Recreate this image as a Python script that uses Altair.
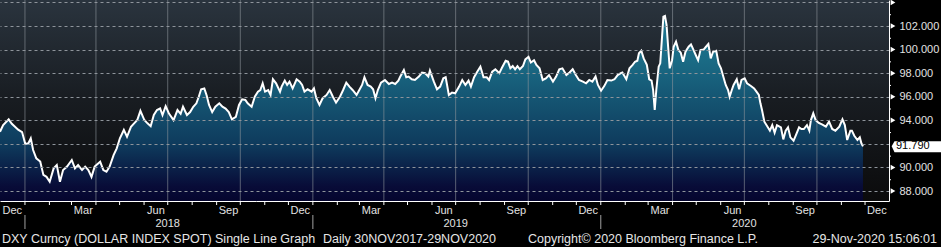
import altair as alt
import pandas as pd

# ---------------- data ----------------
dates = [
    "2017-12-01","2017-12-05","2017-12-12","2017-12-16","2017-12-20","2017-12-24","2017-12-29",
    "2018-01-02","2018-01-06","2018-01-09","2018-01-12","2018-01-16","2018-01-21","2018-01-25","2018-01-29",
    "2018-02-02","2018-02-07","2018-02-11","2018-02-15","2018-02-19","2018-02-24",
    "2018-03-02","2018-03-06","2018-03-10","2018-03-15","2018-03-19","2018-03-23","2018-03-27","2018-03-31",
    "2018-04-07","2018-04-11","2018-04-15","2018-04-19","2018-04-24","2018-04-28",
    "2018-05-02","2018-05-07","2018-05-11","2018-05-16","2018-05-20","2018-05-24","2018-05-28",
    "2018-06-02","2018-06-06","2018-06-10","2018-06-14","2018-06-18","2018-06-22","2018-06-25","2018-06-29",
    "2018-07-03","2018-07-09","2018-07-14","2018-07-18","2018-07-21","2018-07-26","2018-07-30",
    "2018-08-03","2018-08-07","2018-08-10","2018-08-13","2018-08-17","2018-08-20","2018-08-23","2018-08-27","2018-08-31",
    "2018-09-05","2018-09-09","2018-09-13","2018-09-17","2018-09-21","2018-09-26","2018-09-30",
    "2018-10-04","2018-10-08","2018-10-11","2018-10-16","2018-10-20","2018-10-24","2018-10-27","2018-10-30",
    "2018-11-02","2018-11-06","2018-11-09","2018-11-12","2018-11-16","2018-11-21","2018-11-23","2018-11-27","2018-11-30",
    "2018-12-03","2018-12-07","2018-12-12","2018-12-16","2018-12-19","2018-12-22","2018-12-26","2018-12-31",
    "2019-01-03","2019-01-06","2019-01-10","2019-01-14","2019-01-19","2019-01-23","2019-01-27","2019-01-31",
    "2019-02-05","2019-02-09","2019-02-13","2019-02-17","2019-02-21","2019-02-26",
    "2019-03-02","2019-03-05","2019-03-08","2019-03-12","2019-03-16","2019-03-19","2019-03-22","2019-03-25","2019-03-29",
    "2019-04-03","2019-04-08","2019-04-12","2019-04-16","2019-04-20","2019-04-22","2019-04-27","2019-04-30",
    "2019-05-03","2019-05-07","2019-05-11","2019-05-16","2019-05-20","2019-05-24","2019-05-28","2019-05-30",
    "2019-06-04","2019-06-08","2019-06-12","2019-06-16","2019-06-19","2019-06-23","2019-06-27",
    "2019-07-01","2019-07-06","2019-07-10","2019-07-14","2019-07-18","2019-07-21","2019-07-25","2019-07-29",
    "2019-08-02","2019-08-06","2019-08-10","2019-08-13","2019-08-17","2019-08-21","2019-08-26","2019-08-29",
    "2019-09-03","2019-09-06","2019-09-09","2019-09-12","2019-09-15","2019-09-18","2019-09-21","2019-09-25","2019-09-28",
    "2019-10-02","2019-10-05","2019-10-09","2019-10-12","2019-10-16","2019-10-20","2019-10-24","2019-10-28",
    "2019-11-02","2019-11-06","2019-11-10","2019-11-14","2019-11-19","2019-11-23","2019-11-27",
    "2019-12-01","2019-12-05","2019-12-10","2019-12-14","2019-12-18","2019-12-22","2019-12-26","2019-12-29",
    "2020-01-02","2020-01-06","2020-01-10","2020-01-15","2020-01-19","2020-01-23","2020-01-27","2020-01-29",
    "2020-02-03","2020-02-07","2020-02-11","2020-02-14","2020-02-17","2020-02-19","2020-02-22","2020-02-25","2020-02-29",
    "2020-03-03","2020-03-06","2020-03-08","2020-03-10","2020-03-12","2020-03-15","2020-03-17","2020-03-19",
    "2020-03-21","2020-03-23","2020-03-25","2020-03-27","2020-03-29",
    "2020-04-01","2020-04-03","2020-04-06","2020-04-09","2020-04-12","2020-04-15","2020-04-18","2020-04-22","2020-04-25","2020-04-28",
    "2020-05-01","2020-05-04","2020-05-07","2020-05-11","2020-05-14","2020-05-17","2020-05-20","2020-05-23","2020-05-27","2020-05-30",
    "2020-06-02","2020-06-05","2020-06-08","2020-06-11","2020-06-13","2020-06-16","2020-06-18","2020-06-22","2020-06-25","2020-06-28",
    "2020-07-02","2020-07-05","2020-07-10","2020-07-14","2020-07-17","2020-07-20","2020-07-22","2020-07-24","2020-07-27","2020-07-31",
    "2020-08-03","2020-08-06","2020-08-09","2020-08-12","2020-08-17","2020-08-20","2020-08-23","2020-08-26","2020-08-29",
    "2020-09-02","2020-09-05","2020-09-09","2020-09-12","2020-09-15","2020-09-19","2020-09-22","2020-09-24","2020-09-27","2020-09-30",
    "2020-10-04","2020-10-08","2020-10-13","2020-10-17","2020-10-21","2020-10-25","2020-10-30",
    "2020-11-03","2020-11-06","2020-11-09","2020-11-13","2020-11-15","2020-11-18","2020-11-22","2020-11-25","2020-11-27","2020-11-29",
]
values = [
    93.03,93.60,94.08,93.70,93.45,93.20,93.00,
    92.00,92.05,92.47,91.48,90.77,90.50,89.36,89.20,
    88.79,89.92,90.20,88.79,89.78,90.07,
    90.63,89.92,90.20,89.78,90.07,89.78,89.20,90.07,
    90.49,89.78,89.64,90.07,91.05,91.62,
    92.47,93.18,92.60,93.45,93.74,94.02,94.80,
    94.02,93.74,93.50,94.45,94.87,95.00,94.45,95.20,
    94.60,94.02,94.87,94.55,95.15,94.45,94.70,
    95.15,95.44,96.00,96.63,96.70,96.10,95.30,94.70,95.15,
    95.44,95.15,95.00,94.70,94.08,94.30,95.30,
    95.78,95.73,95.44,95.15,96.00,96.43,96.57,97.14,
    96.43,96.57,96.15,97.48,97.14,96.43,96.86,97.37,97.00,
    97.28,96.71,97.48,97.28,97.00,96.43,96.63,96.43,
    96.71,95.87,95.30,95.87,96.15,96.57,96.00,95.50,
    96.00,96.57,97.20,96.86,96.57,96.15,
    96.63,97.00,97.65,97.00,96.86,96.63,95.87,96.57,97.20,
    97.42,97.08,97.20,97.08,97.37,97.65,98.27,97.65,
    97.71,97.48,97.42,97.71,98.05,97.99,97.71,98.22,
    97.28,96.63,96.86,97.56,97.65,96.15,96.35,
    96.29,96.86,97.42,97.00,97.37,96.86,97.65,98.12,
    98.55,97.65,97.65,97.42,98.12,98.33,98.00,98.41,
    99.05,98.98,98.41,98.60,98.33,98.60,98.33,98.60,99.17,
    99.39,98.90,99.10,98.70,98.41,97.42,97.56,97.84,
    97.28,97.71,98.33,98.41,97.84,98.05,98.33,
    97.84,97.42,97.28,97.14,97.42,97.28,97.71,97.00,
    96.51,96.90,97.42,97.37,97.48,97.84,98.00,98.05,
    97.48,98.41,98.70,98.97,99.05,99.68,99.90,99.25,98.70,
    97.48,97.37,96.57,94.87,96.57,98.55,98.83,100.80,
    102.79,102.85,102.10,100.24,98.41,
    99.10,100.24,100.67,99.96,99.74,98.97,99.82,100.24,100.44,100.00,
    99.54,99.10,99.96,100.00,100.24,100.47,99.25,99.82,99.90,98.83,
    98.41,97.70,97.00,96.57,96.00,96.63,97.00,97.48,96.63,97.42,
    97.56,97.14,96.91,96.71,96.43,96.15,95.44,94.87,93.88,93.46,
    93.12,93.59,92.95,93.59,93.40,92.38,93.12,93.40,92.55,
    92.27,92.75,93.40,93.26,93.26,93.59,93.12,94.02,94.59,94.02,
    93.78,93.65,93.46,93.88,93.26,93.12,93.46,
    94.08,93.59,92.33,93.12,93.12,92.69,92.33,92.55,92.05,91.79,
]

y_labels = [88, 90, 92, 94, 96, 98, 100, 102, 104]
y_arrows = [88, 90, 94, 96, 98, 100, 102, 104]
y_minor = [89, 91, 93, 95, 97, 99, 101, 103]
y_min, y_max = 87.152, 104.206
x_start, x_end = "2017-12-01", "2021-01-01"
quarter_lines = ["2018-01-01", "2018-04-01", "2018-07-01", "2018-10-01",
                 "2019-01-01", "2019-04-01", "2019-07-01", "2019-10-01",
                 "2020-01-01", "2020-04-01", "2020-07-01", "2020-10-01"]
year_lines = ["2018-01-01", "2019-01-01", "2020-01-01"]

footer_left = "DXY Curncy (DOLLAR INDEX SPOT) Single Line Graph"
footer_range = "Daily 30NOV2017-29NOV2020"
footer_copy = "Copyright\u00a9 2020 Bloomberg Finance L.P."
footer_time = "29-Nov-2020 15:06:01"

# ---------------- tables ----------------
df = pd.DataFrame({"date": dates, "value": values})
bg = pd.DataFrame({"x0": [x_start], "x1": [x_end]})
arrows = pd.DataFrame({"edge": [x_end] * len(y_arrows), "v": y_arrows})
minor = pd.DataFrame({"edge": [x_end] * len(y_minor), "v": y_minor})
last = pd.DataFrame({"edge": [x_end], "value": [values[-1]]})
quarters = pd.DataFrame({"qd": quarter_lines})
years = pd.DataFrame({"yd": year_lines})
months = pd.DataFrame({"m": [d.strftime("%Y-%m-%d") for d in pd.date_range("2018-01-01", "2020-12-01", freq="MS")]})
one = pd.DataFrame({"k": [0]})


def dt(ts):
    ts = pd.Timestamp(ts)
    return alt.DateTime(year=ts.year, month=ts.month, date=ts.day, utc=True)


mid_months = [dt(d + pd.Timedelta(days=15)) for d in pd.date_range("2017-12-01", "2020-12-01", freq="3MS")]
year_mids = [dt(f"{y}-07-01") for y in (2018, 2019, 2020)]

FONT = "Liberation Sans"
LBL = "#e2e2e2"
GRID = "#8e949b"

xs = alt.Scale(type="utc", domain=[dt(x_start), dt(x_end)], nice=False)
ys = alt.Scale(domain=[y_min, y_max], nice=False, zero=False)

# background gradient of the plot area
bg_layer = alt.Chart(bg).mark_rect(
    color=alt.Gradient(
        gradient="linear", x1=0, x2=0, y1=0, y2=1,
        stops=[alt.GradientStop(color="#2a343e", offset=0),
               alt.GradientStop(color="#181c21", offset=0.5),
               alt.GradientStop(color="#0b0b0c", offset=1)],
    )
).encode(
    x=alt.X("x0:T", scale=xs, axis=None),
    x2="x1:T",
    y=alt.Y(datum=y_max, scale=ys, axis=None),
    y2=alt.datum(y_min),
)

area = alt.Chart(df).mark_area(
    color=alt.Gradient(
        gradient="linear", x1=0, x2=0, y1=0, y2=1,
        stops=[alt.GradientStop(color="#1f7892", offset=0),
               alt.GradientStop(color="#1a6a84", offset=0.25),
               alt.GradientStop(color="#0e3a5c", offset=0.7),
               alt.GradientStop(color="#080c38", offset=0.92),
               alt.GradientStop(color="#05052e", offset=1)],
    )
).encode(
    x=alt.X("date:T", scale=xs, axis=alt.Axis(
        orient="bottom", values=mid_months, ticks=False, grid=False, domain=True,
        domainColor="white", domainWidth=1,
        labelExpr="utcFormat(datum.value, '%b')", labelColor=LBL, labelFont=FONT,
        labelFontSize=11, labelPadding=3, labelFlush=False, labelOverlap=False,
        title=None)),
    y=alt.Y("value:Q", scale=ys, axis=alt.Axis(
        orient="right", values=y_labels, grid=True, gridDash=[3, 3], gridColor=GRID,
        gridWidth=1, ticks=False, domain=True, domainColor="white", domainWidth=1,
        labelExpr="(datum.value >= 104 || datum.value == 92) ? '' : format(datum.value, '.3f')",
        labelColor=LBL, labelFont=FONT, labelFontSize=11, labelPadding=10,
        labelFlush=False, labelOverlap=False, title=None, zindex=1)),
    y2=alt.datum(y_min),
)

# vertical quarter grid lines
qgrid = alt.Chart(quarters).mark_rule(
    color=GRID, strokeWidth=1, strokeOpacity=0.6, xOffset=0.5
).encode(
    x=alt.X("qd:T", scale=xs, axis=None),
    y=alt.value(0),
    y2=alt.value(201),
)

# month ticks under the axis line
mticks = alt.Chart(months).mark_rule(color="white", strokeWidth=1, xOffset=0.5).encode(
    x=alt.X("m:T", scale=xs, axis=None),
    y=alt.value(201),
    y2=alt.value(205),
)

# year separators + year labels
ysep = alt.Chart(years).mark_rule(color="#a0a0a0", strokeWidth=1, xOffset=0.5).encode(
    x=alt.X("yd:T", scale=xs, axis=alt.Axis(
        orient="bottom", values=year_mids, offset=14, ticks=False, domain=False,
        grid=False, labelExpr="utcFormat(datum.value, '%Y')", labelColor=LBL,
        labelFont=FONT, labelFontSize=11, labelPadding=2, labelFlush=False,
        labelOverlap=False, title=None)),
    y=alt.value(215),
    y2=alt.value(229),
)

line = alt.Chart(df).mark_line(color="white", strokeWidth=2).encode(
    x=alt.X("date:T", scale=xs, axis=None),
    y=alt.Y("value:Q", scale=ys, axis=None),
)

arrow_layer = alt.Chart(arrows).mark_point(
    shape="triangle-right", filled=True, color="white", size=30, opacity=1, xOffset=4
).encode(
    x=alt.X("edge:T", scale=xs, axis=None),
    y=alt.Y("v:Q", scale=ys, axis=None),
)

minor_layer = alt.Chart(minor).mark_point(
    shape="M0,0 L1,0", filled=False, stroke="white", strokeWidth=1, size=16,
    opacity=1, yOffset=0.5
).encode(
    x=alt.X("edge:T", scale=xs, axis=None),
    y=alt.Y("v:Q", scale=ys, axis=None),
)

box = alt.Chart(last).mark_point(
    shape="M0.11,0 L0.23,-0.21 L2.3,-0.21 L2.3,0.25 L0.23,0.25 Z",
    filled=True, color="white", size=2304, opacity=1,
).encode(
    x=alt.X("edge:T", scale=xs, axis=None),
    y=alt.Y("value:Q", scale=ys, axis=None),
)

box_text = alt.Chart(last).mark_text(
    align="left", baseline="middle", dx=7, color="black", font=FONT, fontSize=11
).encode(
    x=alt.X("edge:T", scale=xs, axis=None),
    y=alt.Y("value:Q", scale=ys, axis=None),
    text=alt.Text("value:Q", format=".3f"),
)


def footer(txt, xpos, align="left"):
    return alt.Chart(one).mark_text(
        align=align, baseline="alphabetic", color="#e6e6e6", font=FONT, fontSize=12.5
    ).encode(x=alt.value(xpos), y=alt.value(243), text=alt.value(txt))


chart = alt.layer(
    bg_layer, area, qgrid, mticks, ysep, line, arrow_layer, minor_layer, box, box_text,
    footer(footer_left, 2), footer(footer_range, 323), footer(footer_copy, 528),
    footer(footer_time, 937, "right"),
).resolve_axis(x="independent", y="independent").properties(
    width=889, height=201,
    padding={"left": 0, "top": 0, "right": 52, "bottom": 46},
    autosize=alt.AutoSizeParams(type="none"),
    background="black",
).configure_view(strokeWidth=0)

chart.save("out.html", embed_options={"renderer": "svg", "actions": False})
